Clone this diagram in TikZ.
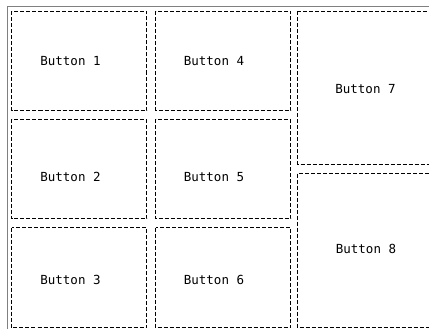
\documentclass[tikz,border=0pt]{standalone}
\usepackage{fontspec}
\newfontfamily\btnfont{DejaVu Sans Mono}
\usepackage{tikz}
\usetikzlibrary{positioning}

\begin{document}
\begin{tikzpicture}[x=1pt, y=-1pt,
    btn/.style={draw, line width=0.7pt, dash pattern=on 4pt off 2pt},
    lbl/.style={font=\btnfont\fontsize{12.5}{13}\selectfont, inner sep=0pt}]
        \clip (0,0) rectangle (429,329);
        \fill[white] (0,0) rectangle (429,329);
        % outer frame
        \draw[gray, line width=1.5pt] (7.5,340) -- (7.5,6.5) -- (440,6.5);
        % left two columns
        \draw[btn] (11.5,11.5) rectangle (146.5,110.5);
        \draw[btn] (155.5,11.5) rectangle (290.5,110.5);
        \draw[btn] (11.5,119.5) rectangle (146.5,218.5);
        \draw[btn] (155.5,119.5) rectangle (290.5,218.5);
        \draw[btn] (11.5,227.5) rectangle (146.5,327.5);
        \draw[btn] (155.5,227.5) rectangle (290.5,327.5);
        % right column
        \draw[btn] (297.5,11.5) rectangle (440,164.5);
        \draw[btn] (297.5,173.5) rectangle (440,327.5);
        % labels
        \node[lbl] (b1) at (70.5,61) {Button 1};
        \node[lbl] (b4) at (214,61) {Button 4};
        \node[lbl] (b2) at (70.5,177) {Button 2};
        \node[lbl] (b5) at (214,177) {Button 5};
        \node[lbl] (b3) at (70.5,280) {Button 3};
        \node[lbl] (b6) at (214,280) {Button 6};
        \node[lbl] (b7) at (365.5,89.5) {Button 7};
        \node[lbl] (b8) at (366,249) {Button 8};
\end{tikzpicture}
\end{document}
